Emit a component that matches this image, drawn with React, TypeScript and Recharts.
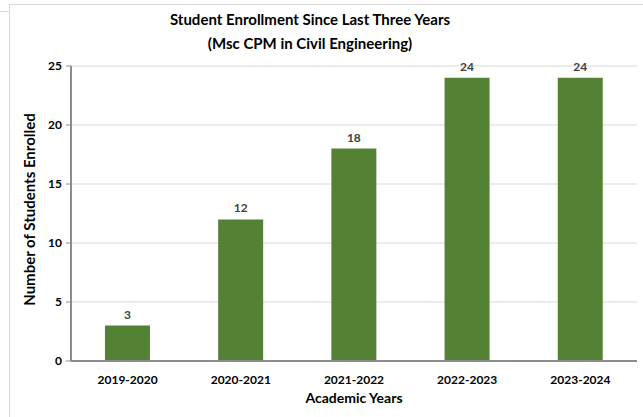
import React from "react";
import { BarChart, Bar, XAxis, YAxis, CartesianGrid, LabelList, Label } from "recharts";

const years = ["2019-2020", "2020-2021", "2021-2022", "2022-2023", "2023-2024"];
const enrolled = [3, 12, 18, 24, 24];
const yTicks = [0, 5, 10, 15, 20, 25];

const data = years.map((y, i) => ({ year: y, value: enrolled[i] }));

const FONT = "Lato, 'Open Sans', sans-serif";

export default function App() {
  return (
    <div style={{ position: "absolute", left: 0, top: 0, width: 643, height: 417, background: "#fff", fontFamily: FONT }}>
      <div style={{ position: "absolute", left: 9, top: 4, width: 640, height: 420, borderLeft: "1px solid #d9d9d9", borderTop: "1px solid #d9d9d9" }} />
      <div style={{ position: "absolute", left: 0, top: 11, width: 9, height: 0, borderTop: "1px solid #d9d9d9" }} />
      <div style={{ position: "absolute", left: 0, top: 7, width: 620, textAlign: "center", fontWeight: 700, fontSize: 15, lineHeight: "24px", color: "#000" }}>
        Student Enrollment Since Last Three Years
        <br />
        (Msc CPM in Civil Engineering)
      </div>
      <div style={{ position: "absolute", left: 0, top: 0 }}>
        <BarChart width={643} height={417} data={data} margin={{ top: 66, right: 6, bottom: 0, left: 0 }} barCategoryGap="30%">
          <CartesianGrid vertical={false} stroke="#d9d9d9" />
          <XAxis
            dataKey="year"
            height={56}
            axisLine={{ stroke: "#8c8c8c", strokeWidth: 2 }}
            tickLine={false}
            tick={{ fill: "#000", fontSize: 12, fontWeight: 700, fontFamily: FONT }}
            tickMargin={8}
          >
            <Label
              content={({ viewBox }: any) => (
                <text x={viewBox.x + viewBox.width / 2} y={403} textAnchor="middle" fontSize={14} fontWeight={700} fill="#000" fontFamily={FONT}>
                  Academic Years
                </text>
              )}
            />
          </XAxis>
          <YAxis
            width={71}
            domain={[0, 25]}
            ticks={yTicks}
            interval={0}
            axisLine={{ stroke: "#8c8c8c", strokeWidth: 2 }}
            tickLine={{ stroke: "#8c8c8c", strokeWidth: 1 }}
            tickSize={5}
            tick={{ fill: "#000", fontSize: 12, fontWeight: 700, fontFamily: FONT }}
            tickMargin={4}
          >
            <Label
              content={({ viewBox }: any) => {
                const cx = 35;
                const cy = viewBox.y + viewBox.height / 2 - 4;
                return (
                  <text x={cx} y={cy} transform={`rotate(-90 ${cx} ${cy})`} textAnchor="middle" fontSize={15} fontWeight={700} fill="#000" fontFamily={FONT}>
                    Number of Students Enrolled
                  </text>
                );
              }}
            />
          </YAxis>
          <Bar dataKey="value" fill="#548235" isAnimationActive={false}>
            <LabelList dataKey="value" position="top" offset={7} fill="#404040" fontSize={12} fontWeight={700} fontFamily={FONT} />
          </Bar>
        </BarChart>
      </div>
    </div>
  );
}
